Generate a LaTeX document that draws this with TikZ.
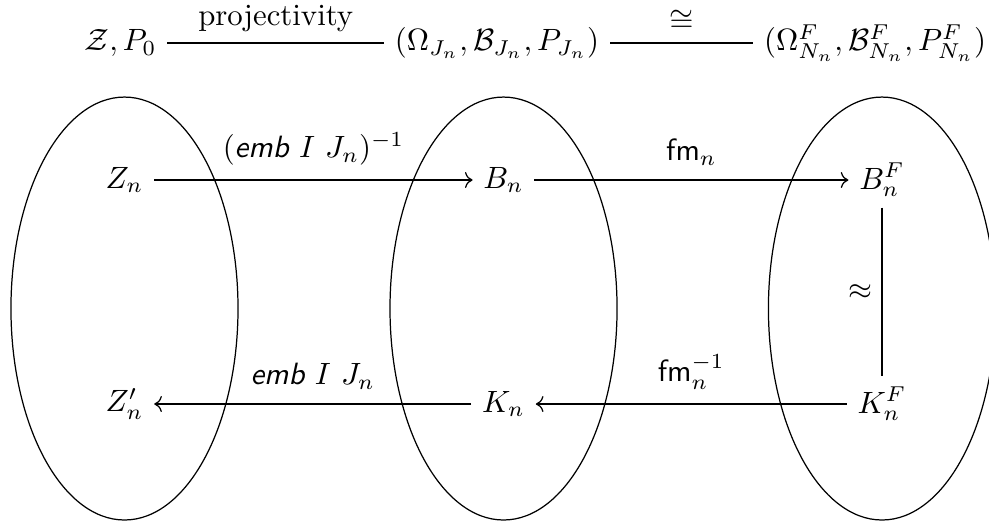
\documentclass[tikz,border=0pt]{standalone}
\usepackage{amsmath}
\usepackage{amssymb}
\usetikzlibrary{arrows.meta, positioning, calc}

\begin{document}
\begin{tikzpicture}[
    obj/.style={inner sep=3.33pt},
    link/.style={thin},
    mapto/.style={thin, -{Computer Modern Rightarrow}},
    blob/.style={thin},
    lbl/.style={font=\normalsize, inner sep=4.5pt},
]
\useasboundingbox (0,0) rectangle (11.29,5.959);

% Ellipses
\draw[blob] (1.421,2.437) ellipse [x radius=1.296, y radius=2.414];
\draw[blob] (5.748,2.437) ellipse [x radius=1.296, y radius=2.414];
\draw[blob] (10.068,2.437) ellipse [x radius=1.296, y radius=2.414];

% Top row
\node[obj] (zp) at (1.376,5.468) {$\mathcal{Z}, P_0$};
\node[obj] (omj) at (5.674,5.468) {$(\Omega_{J_n}, \mathcal{B}_{J_n}, P_{J_n})$};
\node[obj] (omf) at (9.989,5.468) {$(\Omega^F_{N_n}, \mathcal{B}^F_{N_n}, P^F_{N_n})$};

% Middle row
\node[obj] (zn) at (1.421,3.904) {$Z_n$};
\node[obj] (bn) at (5.748,3.904) {$B_n$};
\node[obj] (bf) at (10.068,3.904) {$B^F_n$};

% Bottom row
\node[obj] (zpn) at (1.421,1.347) {$Z'_n$};
\node[obj] (kn) at (5.748,1.347) {$K_n$};
\node[obj] (kf) at (10.068,1.347) {$K^F_n$};

% Links
\draw[link] (zp) -- node[lbl, above, inner sep=3.5pt] (proj) {projectivity} (omj);
\draw[link] (omj) -- node[lbl, above, inner sep=3.5pt] (iso) {$\cong$} (omf);
\draw[mapto] (zn) -- node[lbl, above] (embinv) {$(\textsf{\slshape emb}\ I\ J_n)^{-1}$} (bn);
\draw[mapto] (bn) -- node[lbl, above] (fm) {$\mathsf{fm}_n$} (bf);
\draw[link] (bf) -- node[lbl, left, inner sep=3pt] (approx) {$\approx$} (kf);
\draw[mapto] (kf) -- node[lbl, above] (fminv) {$\mathsf{fm}_n^{-1}$} (kn);
\draw[mapto] (kn) -- node[lbl, above] (emb) {$\textsf{\slshape emb}\ I\ J_n$} (zpn);

\end{tikzpicture}
\end{document}
